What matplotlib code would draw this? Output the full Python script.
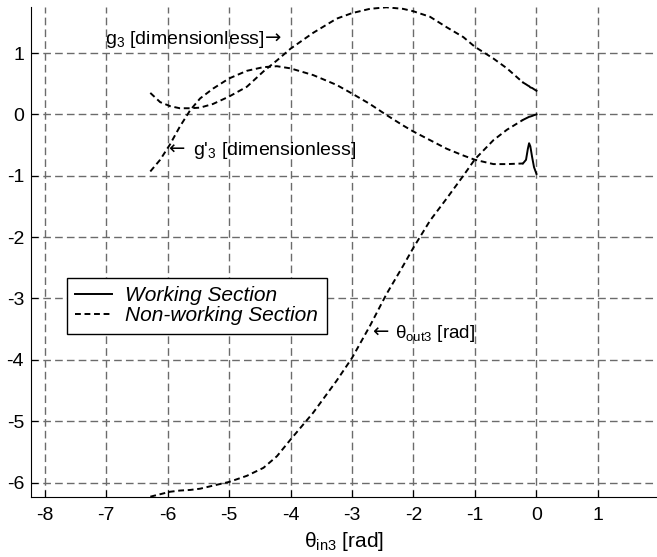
import matplotlib
matplotlib.use("Agg")
import matplotlib.pyplot as plt
from matplotlib.lines import Line2D

plt.rcParams['font.family'] = ['Liberation Sans', 'DejaVu Sans']
plt.rcParams['mathtext.fontset'] = 'custom'
plt.rcParams['mathtext.rm'] = 'Liberation Sans'
plt.rcParams['mathtext.it'] = 'Liberation Sans:italic'
plt.rcParams['mathtext.bf'] = 'Liberation Sans:bold'
plt.rcParams['axes.unicode_minus'] = False

# non-working section (dashed)
theta_in = [-6.28, -6.12, -5.96, -5.80, -5.63, -5.47, -5.26, -5.00, -4.71, -4.44,
            -4.22, -4.00, -3.63, -3.25, -3.00, -2.71, -2.44, -2.17, -2.00, -1.73,
            -1.46, -1.19, -1.00, -0.70, -0.48, -0.22]
theta_out = [-6.23, -6.19, -6.15, -6.13, -6.12, -6.10, -6.05, -5.99, -5.89, -5.76,
             -5.57, -5.30, -4.86, -4.34, -3.97, -3.45, -2.93, -2.47, -2.17, -1.73,
             -1.37, -1.00, -0.73, -0.42, -0.25, -0.09]
g3 = [0.35, 0.20, 0.135, 0.10, 0.10, 0.11, 0.17, 0.29, 0.45, 0.70,
      0.88, 1.07, 1.33, 1.56, 1.65, 1.72, 1.745, 1.72, 1.68, 1.59,
      1.42, 1.26, 1.10, 0.91, 0.75, 0.52]
dg3 = [-0.93, -0.74, -0.49, -0.20, 0.07, 0.26, 0.42, 0.585, 0.71, 0.77,
       0.785, 0.75, 0.64, 0.48, 0.34, 0.17, -0.01, -0.18, -0.28, -0.42,
       -0.56, -0.67, -0.74, -0.81, -0.81, -0.80]

# working section (solid)
theta_in_w = [-0.22, -0.17, -0.14, -0.12, -0.10, -0.07, -0.04, 0.0]
theta_out_w = [-0.09, -0.065, -0.05, -0.04, -0.035, -0.025, -0.013, 0.0]
g3_w = [0.52, 0.49, 0.47, 0.46, 0.44, 0.43, 0.41, 0.385]
dg3_w = [-0.80, -0.74, -0.56, -0.47, -0.52, -0.70, -0.86, -0.97]

xticks = list(range(-8, 2))
yticks = list(range(-6, 2))

fig = plt.figure(figsize=(6.57, 5.57), dpi=100)
ax = fig.add_axes([31 / 657, 1 - 497.3 / 557, 1 - 31 / 657, (497.3 - 7) / 557])

dash = (0, (3.0, 1.9))
for y in (theta_out, g3, dg3):
    ax.plot(theta_in, y, color='black', linewidth=1.4, linestyle=dash)
for y in (theta_out_w, g3_w, dg3_w):
    ax.plot(theta_in_w, y, color='black', linewidth=1.4, linestyle='-')

ax.set_xlim(-8.22, 1.96)
ax.set_ylim(-6.24, 1.75)
ax.set_xticks(xticks)
ax.set_yticks(yticks)
ax.grid(True, color='0.42', linestyle=(0, (5.5, 3)), linewidth=1.0)
ax.set_axisbelow(True)
ax.spines['top'].set_visible(False)
ax.spines['right'].set_visible(False)
ax.tick_params(direction='in', length=5, labelsize=14, color='black')
ax.tick_params(axis='x', pad=7)
ax.tick_params(axis='y', pad=5)

# curve labels, arrows drawn in DejaVu Sans (wider glyphs)
arrow_font = {'family': 'DejaVu Sans', 'size': 14}
ax.text(-7.02, 1.15, "g$_3$ [dimensionless]", fontsize=14, ha='left', va='baseline')
ax.text(-4.41, 1.15, "\u2192", fontdict=arrow_font, ha='left', va='baseline')
ax.text(-5.99, -0.66, "\u2190", fontdict=arrow_font, ha='left', va='baseline')
ax.text(-5.585, -0.66, "g'$_3$ [dimensionless]", fontsize=14, ha='left', va='baseline')
ax.text(-2.68, -3.64, "\u2190", fontdict=arrow_font, ha='left', va='baseline')
ax.text(-2.30, -3.64, "\u03b8$_{\\mathrm{out3}}$ [rad]", fontsize=13.5, ha='left', va='baseline')

ax.set_xlabel("\u03b8$_{\\mathrm{in3}}$ [rad]", fontsize=15, labelpad=4)

handles = [Line2D([], [], color='black', linewidth=1.4, linestyle='-'),
           Line2D([], [], color='black', linewidth=1.4, linestyle=dash)]
leg = ax.legend(handles, ['Working Section', 'Non-working Section'],
                loc='upper left', bbox_to_anchor=(0.0575, 0.4473), borderaxespad=0,
                fancybox=False, framealpha=1, edgecolor='black',
                prop={'style': 'italic', 'size': 15},
                handlelength=1.75, handletextpad=0.65, borderpad=0.4, labelspacing=0.05)
leg.get_frame().set_linewidth(1.0)

fig.savefig("out.png", dpi=100)
